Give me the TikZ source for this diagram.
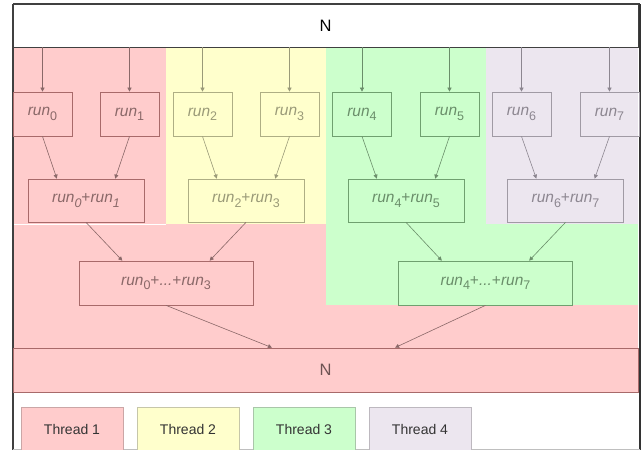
\documentclass[tikz,border=0pt]{standalone}
\usepackage{fontspec}
\setmainfont{Liberation Sans}
\usetikzlibrary{arrows.meta,calc}
\definecolor{redF}{HTML}{FFCCCC}
\definecolor{redS}{HTML}{A86A6A}
\definecolor{redT}{HTML}{8A6868}
\definecolor{yelF}{HTML}{FFFFCC}
\definecolor{yelS}{HTML}{AEAE84}
\definecolor{yelT}{HTML}{9A9A78}
\definecolor{grnF}{HTML}{CCFFCC}
\definecolor{grnS}{HTML}{6FA06F}
\definecolor{grnT}{HTML}{6A8E6A}
\definecolor{purF}{HTML}{ECE6EF}
\definecolor{purS}{HTML}{A09AA4}
\definecolor{purT}{HTML}{8C8690}
\tikzset{
  box/.style={draw, inner sep=0pt, line width=0.7pt, font=\fontsize{15.5}{18}\selectfont},
  runbox/.style={box, minimum width=59pt, minimum height=44pt},
  sumbox/.style={box, minimum width=116pt, minimum height=43pt},
  lvlbox/.style={box, minimum width=174pt, minimum height=44pt},
  nbox/.style={draw, inner sep=0pt, line width=0.8pt, minimum width=625pt, font=\fontsize{16.5}{18}\selectfont},
  legbox/.style={draw, inner sep=0pt, line width=0.7pt, minimum width=102pt, minimum height=44pt, text=black!80, font=\fontsize{14}{16}\selectfont},
  arr/.style={-{Triangle[length=4pt,width=4pt]}, line width=0.6pt},
  rd/.style={draw=redS, text=redT},
  yl/.style={draw=yelS, text=yelT},
  gn/.style={draw=grnS, text=grnT},
  pu/.style={draw=purS, text=purT},
}
\newcommand{\subn}[1]{\raisebox{-0.28em}{\fontsize{12.5}{13}\selectfont #1}}
\newcommand{\rn}[1]{\textit{run}\subn{#1}}
\newcommand{\rni}[1]{\textit{run}\subn{\itshape #1}}
\begin{document}
\begin{tikzpicture}[x=1pt,y=-1pt]
\useasboundingbox (0,0) rectangle (641,450);
\clip (0,0) rectangle (641,450);
% background regions
\fill[white] (0,0) rectangle (641,450);
\fill[redF] (13,47) rectangle (166,224);
\fill[yelF] (166,47) rectangle (326,224);
\fill[grnF] (326,47) rectangle (486,224);
\fill[purF] (486,47) rectangle (638,224);
\fill[redF] (13,224) rectangle (326,305);
\fill[grnF] (326,224) rectangle (638,305);
\fill[redF] (13,305) rectangle (638,348);
\draw[white, line width=0.6pt] (13,224.3) -- (166,224.3);
% frame
\draw[black!75, line width=1.2pt] (13,4) -- (640,4);
\draw[black!75, line width=1.2pt] (13,4) -- (13,450);
\draw[black!80, line width=1.4pt] (640,4) -- (640,450);
\draw[black!25, line width=0.8pt] (13,449) -- (640,449);
% top and bottom N
\node[nbox, draw=black!75, fill=white, minimum height=43pt] (topN) at (325.5,25.5) {N};
\node[nbox, fill=redF, draw=redS, text=redT!80!black, minimum height=44pt] (botN) at (325.5,370) {N};
% run boxes
\node[runbox, rd] (r0) at (42.5,114) {\rn{0}};
\node[runbox, rd] (r1) at (129.5,114) {\rn{1}};
\node[runbox, yl] (r2) at (202.5,114) {\rn{2}};
\node[runbox, yl] (r3) at (289.5,114) {\rn{3}};
\node[runbox, gn] (r4) at (362,114) {\rn{4}};
\node[runbox, gn] (r5) at (449.5,114) {\rn{5}};
\node[runbox, pu] (r6) at (521.5,114) {\rn{6}};
\node[runbox, pu] (r7) at (609.5,114) {\rn{7}};
% sum boxes
\node[sumbox, rd] (s01) at (86,200.5) {\rni{0}+\rni{1}};
\node[sumbox, yl] (s23) at (246,200.5) {\rn{2}+\rn{3}};
\node[sumbox, gn] (s45) at (406,200.5) {\rn{4}+\rn{5}};
\node[sumbox, pu] (s67) at (565.5,200.5) {\rn{6}+\rn{7}};
% level 2
\node[lvlbox, rd] (s03) at (166,283) {\rn{0}+\textit{...}+\rn{3}};
\node[lvlbox, gn] (s47) at (485.5,283) {\rn{4}+\textit{...}+\rn{7}};
% arrows top
\foreach \r/\c in {r0/redT,r1/redT,r2/yelT,r3/yelT,r4/grnT,r5/grnT,r6/purT,r7/purT}
  \draw[arr, \c] (topN.south -| \r.north) -- (\r.north);
% arrows to sums
\draw[arr, redT] (r0.south) -- ($(s01.north west)!0.25!(s01.north east)$);
\draw[arr, redT] (r1.south) -- ($(s01.north west)!0.75!(s01.north east)$);
\draw[arr, yelT] (r2.south) -- ($(s23.north west)!0.25!(s23.north east)$);
\draw[arr, yelT] (r3.south) -- ($(s23.north west)!0.75!(s23.north east)$);
\draw[arr, grnT] (r4.south) -- ($(s45.north west)!0.25!(s45.north east)$);
\draw[arr, grnT] (r5.south) -- ($(s45.north west)!0.75!(s45.north east)$);
\draw[arr, purT] (r6.south) -- ($(s67.north west)!0.25!(s67.north east)$);
\draw[arr, purT] (r7.south) -- ($(s67.north west)!0.75!(s67.north east)$);
% level 2 arrows
\draw[arr, redT] (s01.south) -- ($(s03.north west)!0.25!(s03.north east)$);
\draw[arr, redT] (s23.south) -- ($(s03.north west)!0.75!(s03.north east)$);
\draw[arr, grnT] (s45.south) -- ($(s47.north west)!0.25!(s47.north east)$);
\draw[arr, grnT] (s67.south) -- ($(s47.north west)!0.75!(s47.north east)$);
% final arrows
\draw[arr, redT] (s03.south) -- ($(botN.north west)!0.4144!(botN.north east)$);
\draw[arr, redT] (s47.south) -- ($(botN.north west)!0.6112!(botN.north east)$);
% legend
\node[legbox, fill=redF, draw=redS!60] (l1) at (72,429) {Thread 1};
\node[legbox, fill=yelF, draw=yelS!70] (l2) at (188,429) {Thread 2};
\node[legbox, fill=grnF, draw=grnS!60] (l3) at (304,429) {Thread 3};
\node[legbox, fill=purF, draw=purS!70] (l4) at (420,429) {Thread 4};
\end{tikzpicture}
\end{document}
